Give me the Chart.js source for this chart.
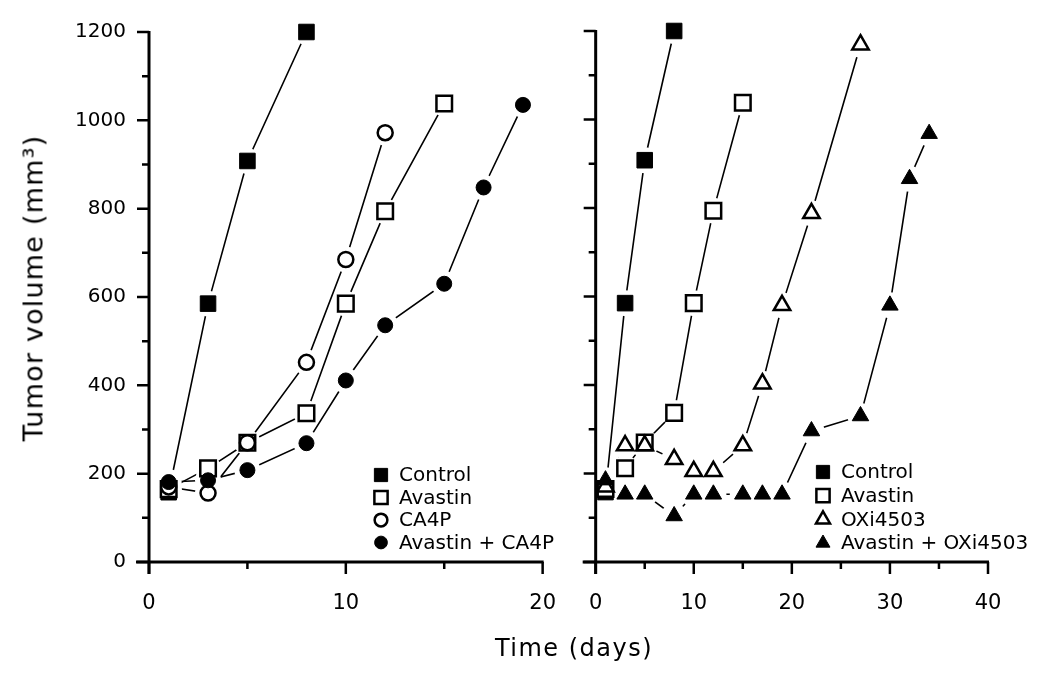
<!DOCTYPE html>
<html>
<head>
<meta charset="utf-8">
<script src="https://cdn.jsdelivr.net/npm/chart.js@4.4.1/dist/chart.umd.min.js"></script>
<style>
html, body { margin: 0; padding: 0; background: #fff; }
#wrap { position: relative; width: 1050px; height: 684px; overflow: hidden; }
canvas { position: absolute; top: 0; }
#left { left: 0; }
#right { left: 560px; }
.ttl { position: absolute; font-family: "DejaVu Sans"; color: #000; white-space: nowrap; line-height: 1; }
#xt { left: 574px; top: 636px; font-size: 24px; letter-spacing: 1.5px; transform: translateX(-50%); }
#yt { left: 33px; top: 288px; font-size: 27px; letter-spacing: 1.2px; transform: translate(-50%, -50%) rotate(-90deg); }
</style>
</head>
<body>
<div id="wrap">
  <canvas id="left" width="585" height="684"></canvas>
  <canvas id="right" width="490" height="684"></canvas>
  <div class="ttl" id="xt">Time (days)</div>
  <div class="ttl" id="yt">Tumor volume (mm³)</div>
</div>
<script>
// tick labels
const yTickLabels = [0, 200, 400, 600, 800, 1000, 1200];
const xTickLabelsL = [0, 10, 20];
const xTickLabelsR = [0, 10, 20, 30, 40];

// series (days / tumor volume in mm3)
const ctrlDays = [1, 3, 5, 8];
const ctrlVol = [158, 585, 908, 1200];
const avaDays = [1, 3, 5, 8, 10, 12, 15];
const avaVol = [165, 212, 270, 337, 585, 794, 1038];
const ca4pDays = [1, 3, 5, 8, 10, 12];
const ca4pVol = [170, 156, 270, 452, 685, 972];
const avaCa4pDays = [1, 3, 5, 8, 10, 12, 15, 17, 19];
const avaCa4pVol = [181, 185, 208, 269, 411, 536, 630, 848, 1035];
const oxiDays = [1, 3, 5, 8, 10, 12, 15, 17, 19, 22, 27];
const oxiVol = [170, 263, 263, 232, 205, 205, 263, 403, 580, 788, 1169];
const avaOxiDays = [1, 3, 5, 8, 10, 12, 15, 17, 19, 22, 27, 30, 32, 34];
const avaOxiVol = [185, 153, 153, 104, 153, 153, 153, 153, 153, 296, 330, 580, 866, 968];

Chart.defaults.font.family = '"DejaVu Sans"';
Chart.defaults.color = '#000';

const R = { rect: 11, circle: 7.5, triangle: 9.5 };

function pts(days, vols) {
  return days.map((d, i) => ({ x: d, y: vols[i] }));
}

function series(label, days, vols, style, filled) {
  return {
    label: label,
    data: pts(days, vols),
    showLine: true,
    borderColor: '#000',
    borderWidth: 1.6,
    pointStyle: style,
    pointRadius: R[style],
    pointHoverRadius: R[style],
    pointBackgroundColor: filled ? '#000' : '#fff',
    pointBorderColor: '#000',
    pointBorderWidth: filled ? 1 : 2.5,
    clip: false
  };
}

// axes, tick marks, gaps round the markers, legend
const frame = {
  id: 'frame',
  afterDatasetsDraw(chart) {
    const ctx = chart.ctx;
    const metas = chart.getSortedVisibleDatasetMetas();
    const big = { left: -1e4, top: -1e4, right: 1e4, bottom: 1e4 };
    ctx.save();
    ctx.fillStyle = '#fff';
    metas.forEach(m => m.data.forEach(p => {
      ctx.beginPath();
      ctx.arc(p.x, p.y, 13, 0, Math.PI * 2);
      ctx.fill();
    }));
    ctx.restore();
    metas.forEach(m => m.data.forEach(p => p.draw(ctx, big)));
  },
  afterDraw(chart, args, opts) {
    const { ctx, chartArea: a, scales: { x, y } } = chart;
    ctx.save();
    ctx.strokeStyle = '#000';
    ctx.lineWidth = 3;
    ctx.beginPath();
    ctx.moveTo(a.left, a.top - 1);
    ctx.lineTo(a.left, a.bottom + 12);
    ctx.moveTo(a.left - 13, a.bottom);
    ctx.lineTo(a.right + 1, a.bottom);
    ctx.stroke();
    ctx.lineWidth = 2.5;
    ctx.beginPath();
    y.ticks.forEach(t => {
      const py = y.getPixelForValue(t.value);
      const len = t.value % 200 === 0 ? 12 : 7;
      ctx.moveTo(a.left - len, py);
      ctx.lineTo(a.left, py);
    });
    x.ticks.forEach(t => {
      const px = x.getPixelForValue(t.value);
      const len = t.value % 10 === 0 ? 12 : 7;
      ctx.moveTo(px, a.bottom);
      ctx.lineTo(px, a.bottom + len);
    });
    ctx.stroke();

    ctx.font = '20px "DejaVu Sans"';
    ctx.textBaseline = 'middle';
    chart.data.datasets.forEach((ds, i) => {
      const cy = opts.y + i * opts.gap;
      ctx.fillStyle = ds.pointBackgroundColor;
      ctx.strokeStyle = '#000';
      ctx.lineWidth = ds.pointBorderWidth;
      Chart.helpers.drawPoint(ctx, {
        pointStyle: ds.pointStyle,
        radius: ds.pointRadius * 0.85,
        borderWidth: ds.pointBorderWidth,
        rotation: 0
      }, opts.x, cy);
      ctx.fillStyle = '#000';
      ctx.fillText(ds.label, opts.x + 18, cy + 1);
    });
    ctx.restore();
  }
};

function makeScales(xMax, xLabels, yWidth, showY) {
  return {
    x: {
      type: 'linear', min: 0, max: xMax,
      grid: { display: false, drawTicks: false },
      border: { display: false },
      ticks: {
        stepSize: 5, autoSkip: false, maxRotation: 0, padding: 29,
        font: { size: 21 },
        callback: v => xLabels.includes(v) ? String(v) : ''
      },
      afterFit: s => { s.height = 122; }
    },
    y: {
      type: 'linear', min: 0, max: 1200,
      grid: { display: false, drawTicks: false },
      border: { display: false },
      ticks: {
        display: showY,
        stepSize: 100, autoSkip: false, padding: 23,
        font: { size: 20, lineHeight: 0.9 },
        callback: v => yTickLabels.includes(v) ? String(v) : ''
      },
      afterFit: s => { s.width = yWidth; }
    }
  };
}

new Chart(document.getElementById('left'), {
  type: 'scatter',
  data: {
    datasets: [
      series('Control', ctrlDays, ctrlVol, 'rect', true),
      series('Avastin', avaDays, avaVol, 'rect', false),
      series('CA4P', ca4pDays, ca4pVol, 'circle', false),
      series('Avastin + CA4P', avaCa4pDays, avaCa4pVol, 'circle', true)
    ]
  },
  options: {
    responsive: false,
    animation: false,
    layout: { padding: { left: 0, top: 31, right: 42, bottom: 0 } },
    plugins: {
      legend: { display: false },
      tooltip: { enabled: false },
      frame: { x: 381, y: 475, gap: 22.5 }
    },
    scales: makeScales(20, xTickLabelsL, 149, true)
  },
  plugins: [frame]
});

new Chart(document.getElementById('right'), {
  type: 'scatter',
  data: {
    datasets: [
      series('Control', ctrlDays, ctrlVol, 'rect', true),
      series('Avastin', avaDays, avaVol, 'rect', false),
      series('OXi4503', oxiDays, oxiVol, 'triangle', false),
      series('Avastin + OXi4503', avaOxiDays, avaOxiVol, 'triangle', true)
    ]
  },
  options: {
    responsive: false,
    animation: false,
    layout: { padding: { left: 0, top: 31, right: 62, bottom: 0 } },
    plugins: {
      legend: { display: false },
      tooltip: { enabled: false },
      frame: { x: 263, y: 472, gap: 23.7 }
    },
    scales: makeScales(40, xTickLabelsR, 34, false)
  },
  plugins: [frame]
});
</script>
</body>
</html>
